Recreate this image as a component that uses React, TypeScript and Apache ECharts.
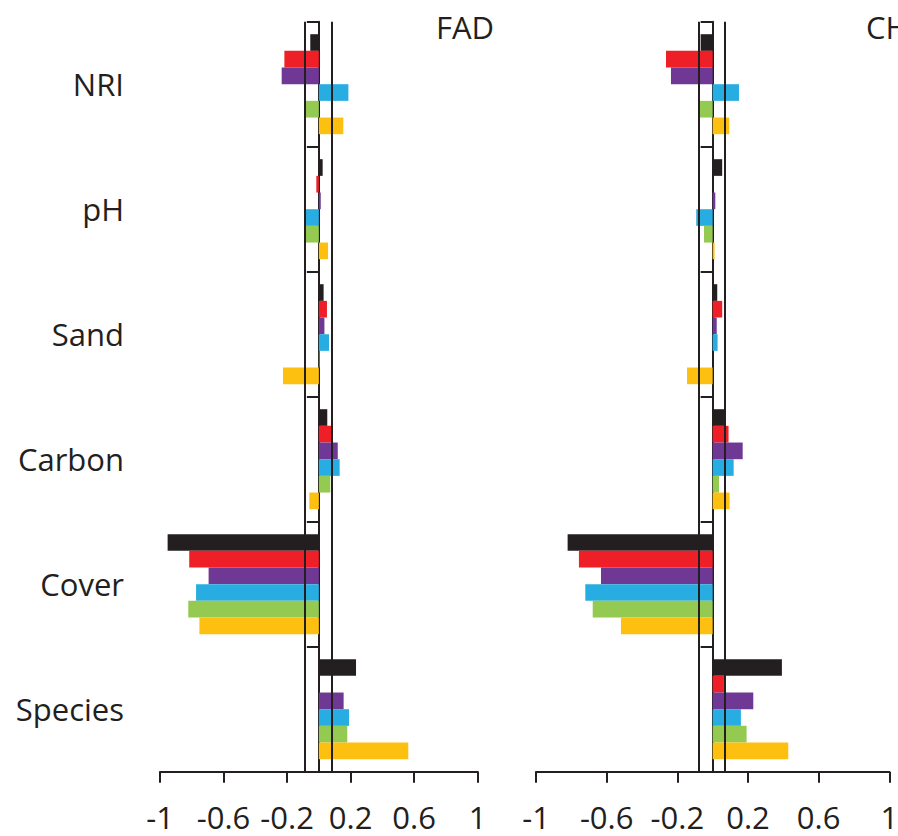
import React, { useEffect, useRef } from "react";
import * as echarts from "echarts";

const categories = ["NRI", "pH", "Sand", "Carbon", "Cover", "Species"];
const xTicks = [-1, -0.6, -0.2, 0.2, 0.6, 1];
const seriesColors = ["#231f20", "#ee1f26", "#6e3894", "#28ade3", "#94c952", "#fdc010"];

const fadBlack = [-0.054, 0.024, 0.03, 0.053, -0.952, 0.234];
const fadRed = [-0.217, -0.016, 0.051, 0.077, -0.816, 0];
const fadPurple = [-0.234, 0.012, 0.035, 0.119, -0.694, 0.156];
const fadBlue = [0.186, -0.085, 0.064, 0.131, -0.773, 0.19];
const fadGreen = [-0.085, -0.085, 0.004, 0.072, -0.822, 0.179];
const fadYellow = [0.154, 0.058, -0.226, -0.06, -0.752, 0.563];

const chBlack = [-0.068, 0.054, 0.026, 0.071, -0.821, 0.392];
const chRed = [-0.264, 0, 0.054, 0.09, -0.757, 0.064];
const chPurple = [-0.236, 0.015, 0.023, 0.17, -0.632, 0.23];
const chBlue = [0.149, -0.093, 0.028, 0.119, -0.721, 0.16];
const chGreen = [-0.074, -0.049, 0, 0.036, -0.679, 0.192];
const chYellow = [0.094, 0.011, -0.145, 0.096, -0.519, 0.428];

const fadThresholds = [-0.087, 0.081];
const chThresholds = [-0.078, 0.068];

const panelTitles = ["FAD", "CH"];

const FONT = "'Open Sans', 'Noto Sans', sans-serif";
const INK = "#231f20";

export default function App() {
  const ref = useRef<HTMLDivElement>(null);

  useEffect(() => {
    if (!ref.current) return;
    const chart = echarts.init(ref.current, undefined, { renderer: "svg" });

    const fadData = [fadBlack, fadRed, fadPurple, fadBlue, fadGreen, fadYellow];
    const chData = [chBlack, chRed, chPurple, chBlue, chGreen, chYellow];

    const makeSeries = (data: number[][], xi: number, yi: number, thresholds: number[]) =>
      data.map((d, i) => ({
        type: "bar",
        xAxisIndex: xi,
        yAxisIndex: yi,
        data: d,
        barCategoryGap: "20%",
        barGap: "0%",
        itemStyle: { color: seriesColors[i] },
        silent: true,
        markLine:
          i === 0
            ? {
                silent: true,
                symbol: ["none", "none"],
                label: { show: false },
                lineStyle: { color: INK, width: 2, type: "solid" },
                data: thresholds.map((t) => ({ xAxis: t })),
              }
            : undefined,
      }));

    const xAxisBase = (gi: number) => ({
      type: "value",
      gridIndex: gi,
      min: -1,
      max: 1,
      position: "bottom",
      axisLine: { show: true, onZero: false, lineStyle: { color: INK, width: 2 } },
      axisTick: { show: true, length: 11, customValues: xTicks, lineStyle: { color: INK, width: 2 } },
      axisLabel: {
        customValues: xTicks,
        formatter: (v: number) => String(Math.round(v * 10) / 10),
        fontFamily: FONT,
        fontSize: 31,
        color: INK,
        margin: 30,
      },
      splitLine: { show: false },
    });

    const yAxisLine = (gi: number) => ({
      type: "category",
      gridIndex: gi,
      data: categories,
      inverse: true,
      axisLine: { show: true, onZero: true, lineStyle: { color: INK, width: 2 } },
      axisTick: { show: true, length: 12, inside: false, lineStyle: { color: INK, width: 2 } },
      axisLabel: { show: false },
      splitLine: { show: false },
    });

    const option: any = {
      animation: false,
      backgroundColor: "#ffffff",
      grid: [
        { left: 160, top: 21.7, width: 317.7, height: 750, outerBoundsMode: "none", containLabel: false },
        { left: 536, top: 21.7, width: 353.3, height: 750, outerBoundsMode: "none", containLabel: false },
      ],
      xAxis: [xAxisBase(0), xAxisBase(1)],
      yAxis: [
        yAxisLine(0),
        {
          type: "category",
          gridIndex: 0,
          data: categories,
          inverse: true,
          position: "left",
          axisLine: { show: false, onZero: false },
          axisTick: { show: false },
          axisLabel: { show: true, fontFamily: FONT, fontSize: 31, color: INK, margin: 36 },
          splitLine: { show: false },
        },
        yAxisLine(1),
      ],
      graphic: [
        {
          type: "text",
          x: 436,
          y: 27,
          silent: true,
          style: { text: panelTitles[0], font: `31px ${FONT}`, fill: INK, textVerticalAlign: "middle", verticalAlign: "middle" },
        },
        {
          type: "text",
          x: 866,
          y: 27,
          silent: true,
          style: { text: panelTitles[1], font: `31px ${FONT}`, fill: INK, textVerticalAlign: "middle", verticalAlign: "middle" },
        },
      ],
      series: [...makeSeries(fadData, 0, 0, fadThresholds), ...makeSeries(chData, 1, 2, chThresholds)],
    };

    chart.setOption(option);
    return () => chart.dispose();
  }, []);

  return (
    <div
      ref={ref}
      style={{ position: "fixed", left: 0, top: 0, width: 898, height: 836, background: "#fff" }}
    />
  );
}
